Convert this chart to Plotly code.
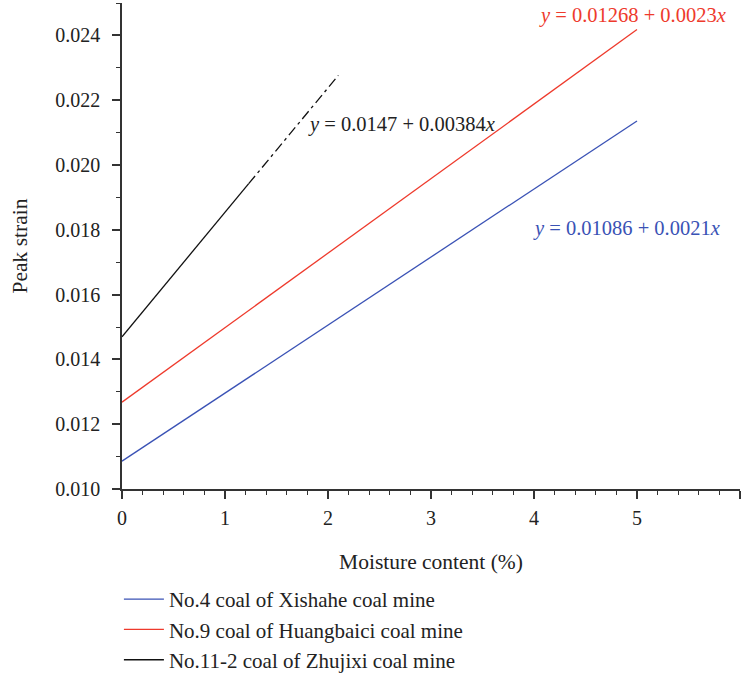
import plotly.graph_objects as go

# Fitted relations: peak strain = intercept + slope * moisture content
series_names = [
    "No.4 coal of Xishahe coal mine",
    "No.9 coal of Huangbaici coal mine",
    "No.11-2 coal of Zhujixi coal mine",
]
intercepts = [0.01086, 0.01268, 0.0147]
slopes = [0.0021, 0.0023, 0.00384]
x_start = [0.0, 0.0, 0.0]
x_end = [5.0, 5.0, 2.1]
# Zhujixi fit is drawn solid up to here, then extrapolated with dash-dot
x_solid_end_black = 1.23
colors = ["#3a52b5", "#ee3a2c", "#111111"]

x_tick_vals = [0, 1, 2, 3, 4, 5, 6]
y_tick_vals = [0.010, 0.012, 0.014, 0.016, 0.018, 0.020, 0.022, 0.024]
y_tick_text = ["0.010", "0.012", "0.014", "0.016", "0.018", "0.020", "0.022", "0.024"]

eq_labels = [
    "<i>y</i> = 0.01086 + 0.0021<i>x</i>",
    "<i>y</i> = 0.01268 + 0.0023<i>x</i>",
    "<i>y</i> = 0.0147 + 0.00384<i>x</i>",
]
eq_pos_x = [4.9, 4.96, 2.71]
eq_pos_y = [0.01804, 0.02462, 0.02125]

FONT = "Liberation Serif"
TEXT = "#222222"


def fit(i, x):
    return intercepts[i] + slopes[i] * x


fig = go.Figure()

for i in range(3):
    xe = x_end[i] if i < 2 else x_solid_end_black
    fig.add_trace(go.Scatter(
        x=[x_start[i], xe],
        y=[fit(i, x_start[i]), fit(i, xe)],
        mode="lines",
        line=dict(color=colors[i], width=1.3),
        name=series_names[i],
    ))

fig.add_trace(go.Scatter(
    x=[x_solid_end_black, x_end[2]],
    y=[fit(2, x_solid_end_black), fit(2, x_end[2])],
    mode="lines",
    line=dict(color=colors[2], width=1.3, dash="10px,4px,3px,4px"),
    showlegend=False,
))

for i in range(3):
    fig.add_annotation(
        x=eq_pos_x[i], y=eq_pos_y[i], text=eq_labels[i],
        showarrow=False, xanchor="center", yanchor="middle",
        font=dict(family=FONT, size=20.5, color=colors[i] if i < 2 else TEXT),
    )

axis_common = dict(
    showgrid=False, zeroline=False,
    showline=True, linecolor="#333333", linewidth=1.5,
    ticks="outside", ticklen=8, tickwidth=1.5, tickcolor="#333333",
    tickfont=dict(family=FONT, size=20, color=TEXT),
    automargin=False,
)

fig.update_xaxes(
    range=[0, 6], tickvals=x_tick_vals,
    minor=dict(dtick=0.2, ticks="outside", ticklen=4, tickwidth=1.2, tickcolor="#333333"),
    title=dict(text="Moisture content (%)", font=dict(family=FONT, size=21.5, color=TEXT), standoff=26),
    ticklabelstandoff=2,
    **axis_common,
)
fig.update_yaxes(
    range=[0.010, 0.025], tickvals=y_tick_vals, ticktext=y_tick_text,
    minor=dict(dtick=0.001, ticks="outside", ticklen=4, tickwidth=1.2, tickcolor="#333333"),
    title=dict(text="Peak strain", font=dict(family=FONT, size=21.5, color=TEXT), standoff=22),
    ticklabelstandoff=8,
    **axis_common,
)

fig.update_layout(
    width=743, height=676,
    margin=dict(l=122, r=3, t=3, b=187, autoexpand=False),
    plot_bgcolor="white", paper_bgcolor="white",
    showlegend=True,
    legend=dict(
        x=-0.005, y=1 - 579 / 676, xanchor="left", yanchor="top",
        yref="container",
        font=dict(family=FONT, size=21, color=TEXT),
        tracegroupgap=0, itemwidth=40,
        bgcolor="rgba(0,0,0,0)",
    ),
)

fig.write_html("out.html")
